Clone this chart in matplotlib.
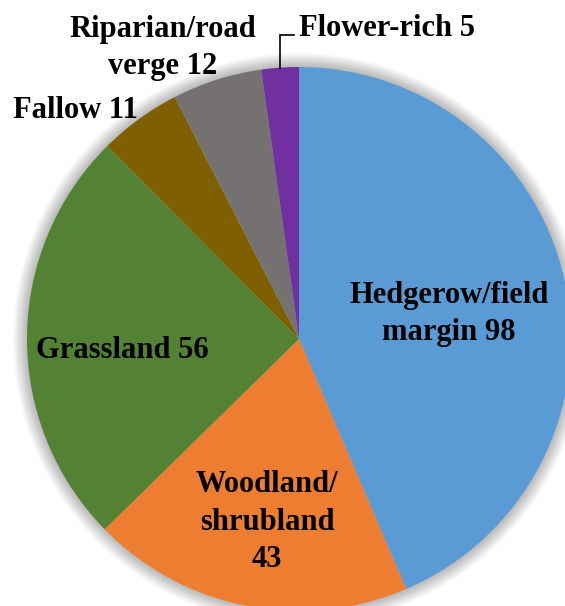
import numpy as np
import matplotlib
matplotlib.use("Agg")
import matplotlib.pyplot as plt
from matplotlib.patches import Circle

# habitat categories and counts
categories = ["Hedgerow/field margin", "Woodland/shrubland", "Grassland",
              "Fallow", "Riparian/road verge", "Flower-rich"]
counts = [98, 43, 56, 11, 12, 5]
label_texts = ["Hedgerow/field\nmargin 98", "Woodland/\nshrubland\n43",
               "Grassland 56", "Fallow 11", "Riparian/road\nverge 12",
               "Flower-rich 5"]
colors = ["#5B9BD5", "#ED7D31", "#548235", "#7F6000", "#767171", "#7030A0"]

W, H = 565, 606
fig = plt.figure(figsize=(W / 100, H / 100), dpi=100)
ax = fig.add_axes([0, 0, 1, 1])

cx, cy, r = 299, H - 339, 272

# soft shadow round the pie
for k in range(14, 0, -1):
    ax.add_patch(Circle((cx, cy), r + k, facecolor="black", edgecolor="none",
                        alpha=0.018, zorder=0))

wedges, _ = ax.pie(counts, colors=colors, startangle=90, counterclock=False,
                   center=(cx, cy), radius=r, frame=True,
                   wedgeprops=dict(linewidth=0))
ax.set_xlim(0, W)
ax.set_ylim(0, H)
ax.set_aspect("equal")
ax.axis("off")

font = dict(family=["Liberation Serif", "DejaVu Serif"], fontweight="bold",
            fontsize=22, color="black", linespacing=1.38)

# label positions (pixels from top-left)
pos = [(449, 314, "center"), (267, 522, "center"), (122, 351, "center"),
       (13, 110, "left"), (163, 48, "center"), (299, 29, "left")]
for txt, (x, y, ha) in zip(label_texts, pos):
    ax.text(x, H - y, txt, ha=ha, va="center", **font)

# leader line for the small Flower-rich slice
w = wedges[-1]
mid = np.deg2rad((w.theta1 + w.theta2) / 2)
ex, ey = cx + r * np.cos(mid), cy + r * np.sin(mid)
ax.plot([ex, ex, 294], [ey, H - 35, H - 35], color="black", lw=1.2,
        solid_joinstyle="miter")

fig.savefig("out.png", dpi=100)
